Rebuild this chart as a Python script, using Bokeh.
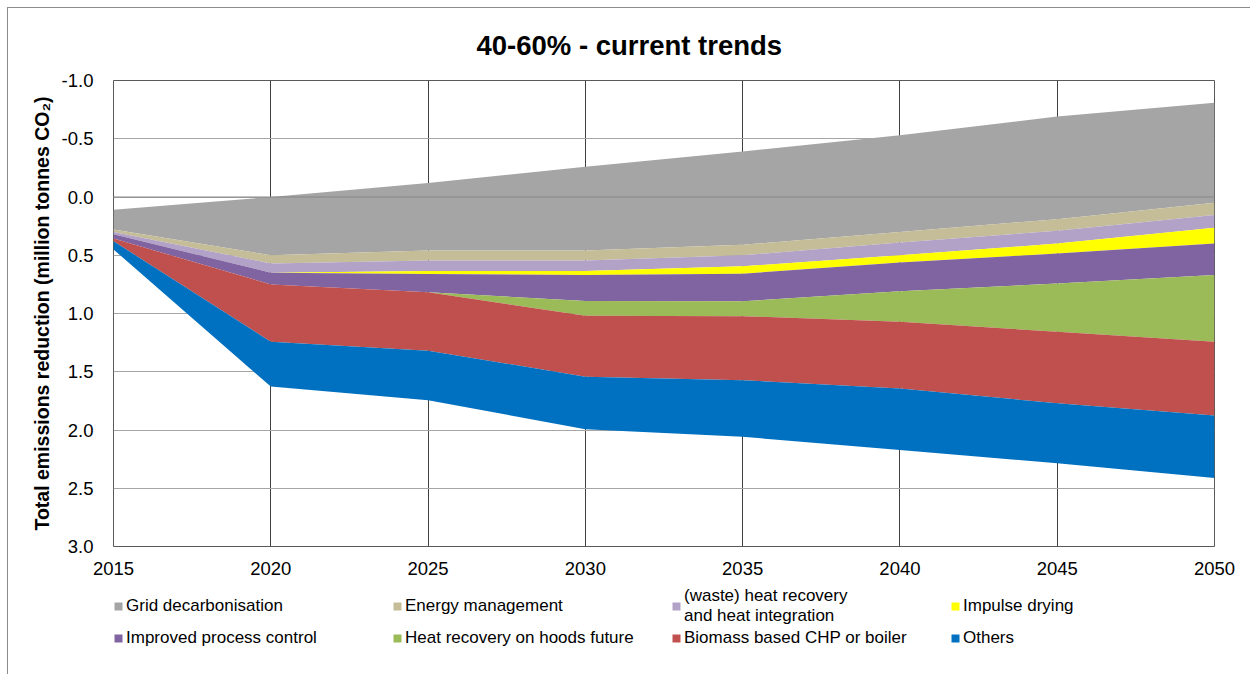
from bokeh.plotting import figure
from bokeh.layouts import column
from bokeh.models import (Range1d, FixedTicker, NumeralTickFormatter, Span, Legend,
                          LegendItem, ColumnDataSource, Title)
from bokeh.embed import file_html
from bokeh.resources import INLINE
import numpy as np

# ---------------- data ----------------
years = [2015, 2020, 2025, 2030, 2035, 2040, 2045, 2050]
x_ticks = [2015, 2020, 2025, 2030, 2035, 2040, 2045, 2050]
y_ticks = [-1.0, -0.5, 0.0, 0.5, 1.0, 1.5, 2.0, 2.5, 3.0]

# upper edge of the stack (reversed axis: negative values are on top)
stack_top = [0.11, 0.00, -0.12, -0.26, -0.39, -0.53, -0.69, -0.81]

series_names = ["Grid decarbonisation", "Energy management",
                "(waste) heat recovery\nand heat integration", "Impulse drying",
                "Improved process control", "Heat recovery on hoods future",
                "Biomass based CHP or boiler", "Others"]
grid_decarb = [0.17, 0.50, 0.58, 0.72, 0.80, 0.83, 0.88, 0.86]
energy_mgmt = [0.02, 0.07, 0.085, 0.085, 0.09, 0.09, 0.10, 0.105]
waste_heat = [0.02, 0.08, 0.09, 0.09, 0.095, 0.11, 0.11, 0.11]
impulse_drying = [0.0, 0.0, 0.025, 0.035, 0.063, 0.063, 0.086, 0.134]
process_control = [0.037, 0.10, 0.157, 0.223, 0.237, 0.245, 0.257, 0.271]
hoods_future = [0.0, 0.0, 0.0, 0.126, 0.128, 0.263, 0.414, 0.572]
biomass_chp = [0.023, 0.492, 0.502, 0.523, 0.549, 0.572, 0.614, 0.634]
others = [0.07, 0.385, 0.426, 0.451, 0.486, 0.528, 0.514, 0.537]

colors = ["#A5A5A5", "#C4BD97", "#B3A2C7", "#FFFF00",
          "#8064A2", "#9BBB59", "#C0504D", "#0070C0"]

series = [grid_decarb, energy_mgmt, waste_heat, impulse_drying,
          process_control, hoods_future, biomass_chp, others]

# ---------------- main figure ----------------
FONT = "Liberation Sans"

p = figure(frame_width=1101, frame_height=466, output_backend="svg", toolbar_location=None,
           x_range=Range1d(2015, 2050), y_range=Range1d(3.0, -1.0),
           min_border_left=101, min_border_right=41, min_border_top=70,
           min_border_bottom=36)

p.title = Title(text="40-60% - current trends", align="left", offset=363, standoff=39,
                text_font=FONT, text_font_size="27.5px", text_font_style="bold",
                text_color="#000000")

# stacked areas
data = {"x": years}
lower = np.array(stack_top, dtype=float)
for i, vals in enumerate(series):
    upper = lower + np.array(vals, dtype=float)
    data[f"a{i}"] = lower.copy()
    data[f"b{i}"] = upper.copy()
    lower = upper
src = ColumnDataSource(data)
for i, col in enumerate(colors):
    p.varea(x="x", y1=f"a{i}", y2=f"b{i}", source=src, fill_color=col, fill_alpha=1.0)

# axis line at 0 drawn over the series
p.add_layout(Span(location=0, dimension="width", line_color="#868686", line_width=1))

# grids
p.xgrid.ticker = FixedTicker(ticks=x_ticks)
p.ygrid.ticker = FixedTicker(ticks=y_ticks)
p.xgrid.grid_line_color = "#404040"
p.ygrid.grid_line_color = "#A6A6A6"
p.outline_line_color = "#595959"
p.outline_line_width = 1

# axes
p.xaxis.ticker = FixedTicker(ticks=x_ticks)
p.yaxis.ticker = FixedTicker(ticks=y_ticks)
p.yaxis.formatter = NumeralTickFormatter(format="0.0")
for ax in (p.xaxis[0], p.yaxis[0]):
    ax.axis_line_color = None
    ax.major_tick_line_color = None
    ax.minor_tick_line_color = None
    ax.major_label_text_font = FONT
    ax.major_label_text_font_size = "18.5px"
    ax.major_label_text_color = "#000000"
p.xaxis.major_label_standoff = 9
p.yaxis.major_label_standoff = 14
p.yaxis.axis_label = "Total emissions reduction (million tonnes CO\u2082)"
p.yaxis.axis_label_text_font = FONT
p.yaxis.axis_label_text_font_size = "19.5px"
p.yaxis.axis_label_text_font_style = "bold"
p.yaxis.axis_label_text_color = "#000000"
p.yaxis.axis_label_standoff = 6

# ---------------- legend strip (separate figure below) ----------------
lp = figure(width=1243, height=94, output_backend="svg", toolbar_location=None,
            x_range=Range1d(0, 1), y_range=Range1d(0, 1),
            x_axis_location=None, y_axis_location=None,
            min_border_left=105, min_border_top=4, min_border_right=0,
            min_border_bottom=0)
lp.outline_line_color = None
lp.grid.visible = False

legend_renderers = []
for i, col in enumerate(colors):
    # same series; outside this strip's visible range, used for the legend swatches
    r = lp.varea(x="x", y1=f"a{i}", y2=f"b{i}", source=src, fill_color=col, fill_alpha=1.0)
    legend_renderers.append(r)

items = [LegendItem(label=n, renderers=[r]) for n, r in zip(series_names, legend_renderers)]
legend = Legend(items=items, ncols=4, orientation="horizontal", location="top_left",
                glyph_width=10, glyph_height=10, label_standoff=3, label_width=266,
                spacing=0, padding=0, margin=0,
                label_text_font=FONT, label_text_font_size="17px",
                label_text_color="#000000", label_height=24,
                border_line_color=None, background_fill_alpha=0)
lp.add_layout(legend, "center")

page = column(p, lp, spacing=0,
              styles={"margin-left": "8px", "margin-top": "8px",
                      "box-shadow": "-1px -1px 0 0 #8c8c8c"})

open("out.html", "w").write(file_html(page, INLINE))
